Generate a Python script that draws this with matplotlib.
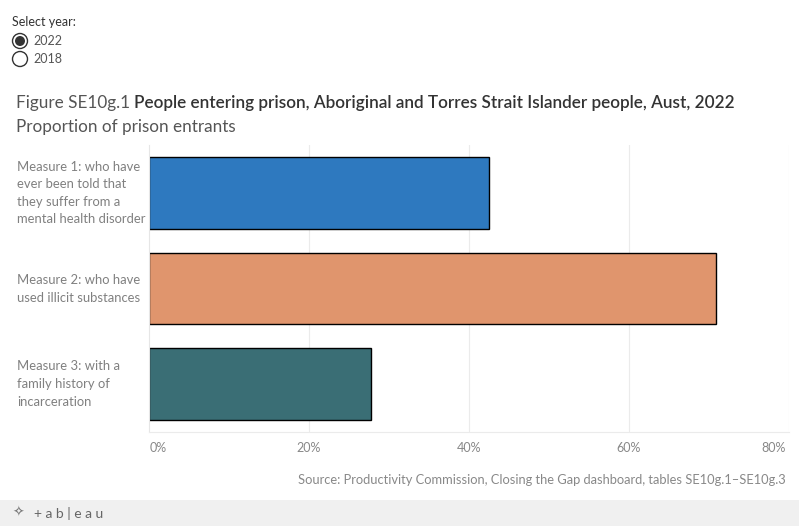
import matplotlib
matplotlib.use("Agg")
import matplotlib.pyplot as plt
from matplotlib.patches import Ellipse, Rectangle

categories = ["Measure 1: who have\never been told that\nthey suffer from a\nmental health disorder",
              "Measure 2: who have\nused illicit substances",
              "Measure 3: with a\nfamily history of\nincarceration"]
values = [42.5, 70.9, 27.8]
colors = ["#2E79BF", "#E0956D", "#3A6E75"]
xticks = [0, 20, 40, 60, 80]
xticklabels = ["0%", "20%", "40%", "60%", "80%"]

FONT = "Lato"
W, H = 799, 526
fig = plt.figure(figsize=(W/100, H/100), dpi=100)
fig.patch.set_facecolor("white")

def fx(px): return px / W
def fy(py): return 1 - py / H

ax = fig.add_axes([fx(149), fy(432), fx(789) - fx(149), fy(145) - fy(432)])
ypos = list(range(len(categories)))
ax.barh(ypos, values, height=0.75, color=colors, edgecolor="black", linewidth=1.0)
ax.set_ylim(2.5, -0.5)
ax.set_xlim(0, 80)
ax.set_xticks(xticks)
ax.set_xticklabels([])
ax.set_yticks([])
for x in xticks[1:]:
    ax.axvline(x, color="#EBEBEB", lw=0.8, zorder=0)
for s in ["top", "right"]:
    ax.spines[s].set_visible(False)
ax.spines["left"].set_color("#E6E6E6")
ax.spines["bottom"].set_color("#EBEBEB")
ax.spines["left"].set_linewidth(0.8)
ax.spines["bottom"].set_linewidth(0.8)
ax.tick_params(axis="x", length=0)

# x tick labels
for x, lab in zip(xticks, xticklabels):
    px = 149 + x * 8
    if x == 0:
        fig.text(fx(150), fy(448), lab, ha="left", va="center", fontsize=9, color="#888888", family=FONT)
    elif x == 80:
        fig.text(fx(786), fy(448), lab, ha="right", va="center", fontsize=9, color="#888888", family=FONT)
    else:
        fig.text(fx(px), fy(448), lab, ha="center", va="center", fontsize=9, color="#888888", family=FONT)

# category labels
label_y = [193, 289, 384]
for cat, yy in zip(categories, label_y):
    fig.text(fx(17), fy(yy), cat, ha="left", va="center", fontsize=9.4, color="#808080",
             family=FONT, linespacing=1.56)

# Select year widget
fig.text(fx(12), fy(22), "Select year:", ha="left", va="center", fontsize=9, color="#333333", family=FONT)
for cy, filled in [(41, True), (59, False)]:
    fig.patches.append(Ellipse((fx(20), fy(cy)), 15 / W, 15 / H, transform=fig.transFigure,
                               facecolor="white", edgecolor="#333333", lw=1.0))
    if filled:
        fig.patches.append(Ellipse((fx(20), fy(cy)), 10 / W, 10 / H, transform=fig.transFigure,
                                   facecolor="#333333", edgecolor="none"))
fig.text(fx(33), fy(41), "2022", ha="left", va="center", fontsize=9, color="#555555", family=FONT)
fig.text(fx(33), fy(59), "2018", ha="left", va="center", fontsize=9, color="#555555", family=FONT)

# Title
t1 = fig.text(fx(16), fy(103), "Figure SE10g.1 ", ha="left", va="center", fontsize=12.3,
              color="#555555", family=FONT)
fig.canvas.draw()
bb = t1.get_window_extent(renderer=fig.canvas.get_renderer())
fig.text(bb.x1 / W, fy(103), "People entering prison, Aboriginal and Torres Strait Islander people, Aust, 2022",
         ha="left", va="center", fontsize=12.3, color="#333333", family=FONT, fontweight="semibold")
fig.text(fx(16), fy(127), "Proportion of prison entrants", ha="left", va="center", fontsize=12.3,
         color="#555555", family=FONT)

# Source
fig.text(fx(786), fy(480), "Source: Productivity Commission, Closing the Gap dashboard, tables SE10g.1\u2013SE10g.3",
         ha="right", va="center", fontsize=9.3, color="#888888", family=FONT)

# Tableau footer
fig.patches.append(Rectangle((0, 0), 1, fy(500), transform=fig.transFigure,
                             facecolor="#F0F0F0", edgecolor="none"))
fig.text(fx(12), fy(513), "\u2727", ha="left", va="center", fontsize=10, color="#777777", family="DejaVu Sans")
fig.text(fx(34), fy(513), "+ a b | e a u", ha="left", va="center", fontsize=10, color="#666666", family=FONT)

fig.savefig("out.png", dpi=100, facecolor="white")
